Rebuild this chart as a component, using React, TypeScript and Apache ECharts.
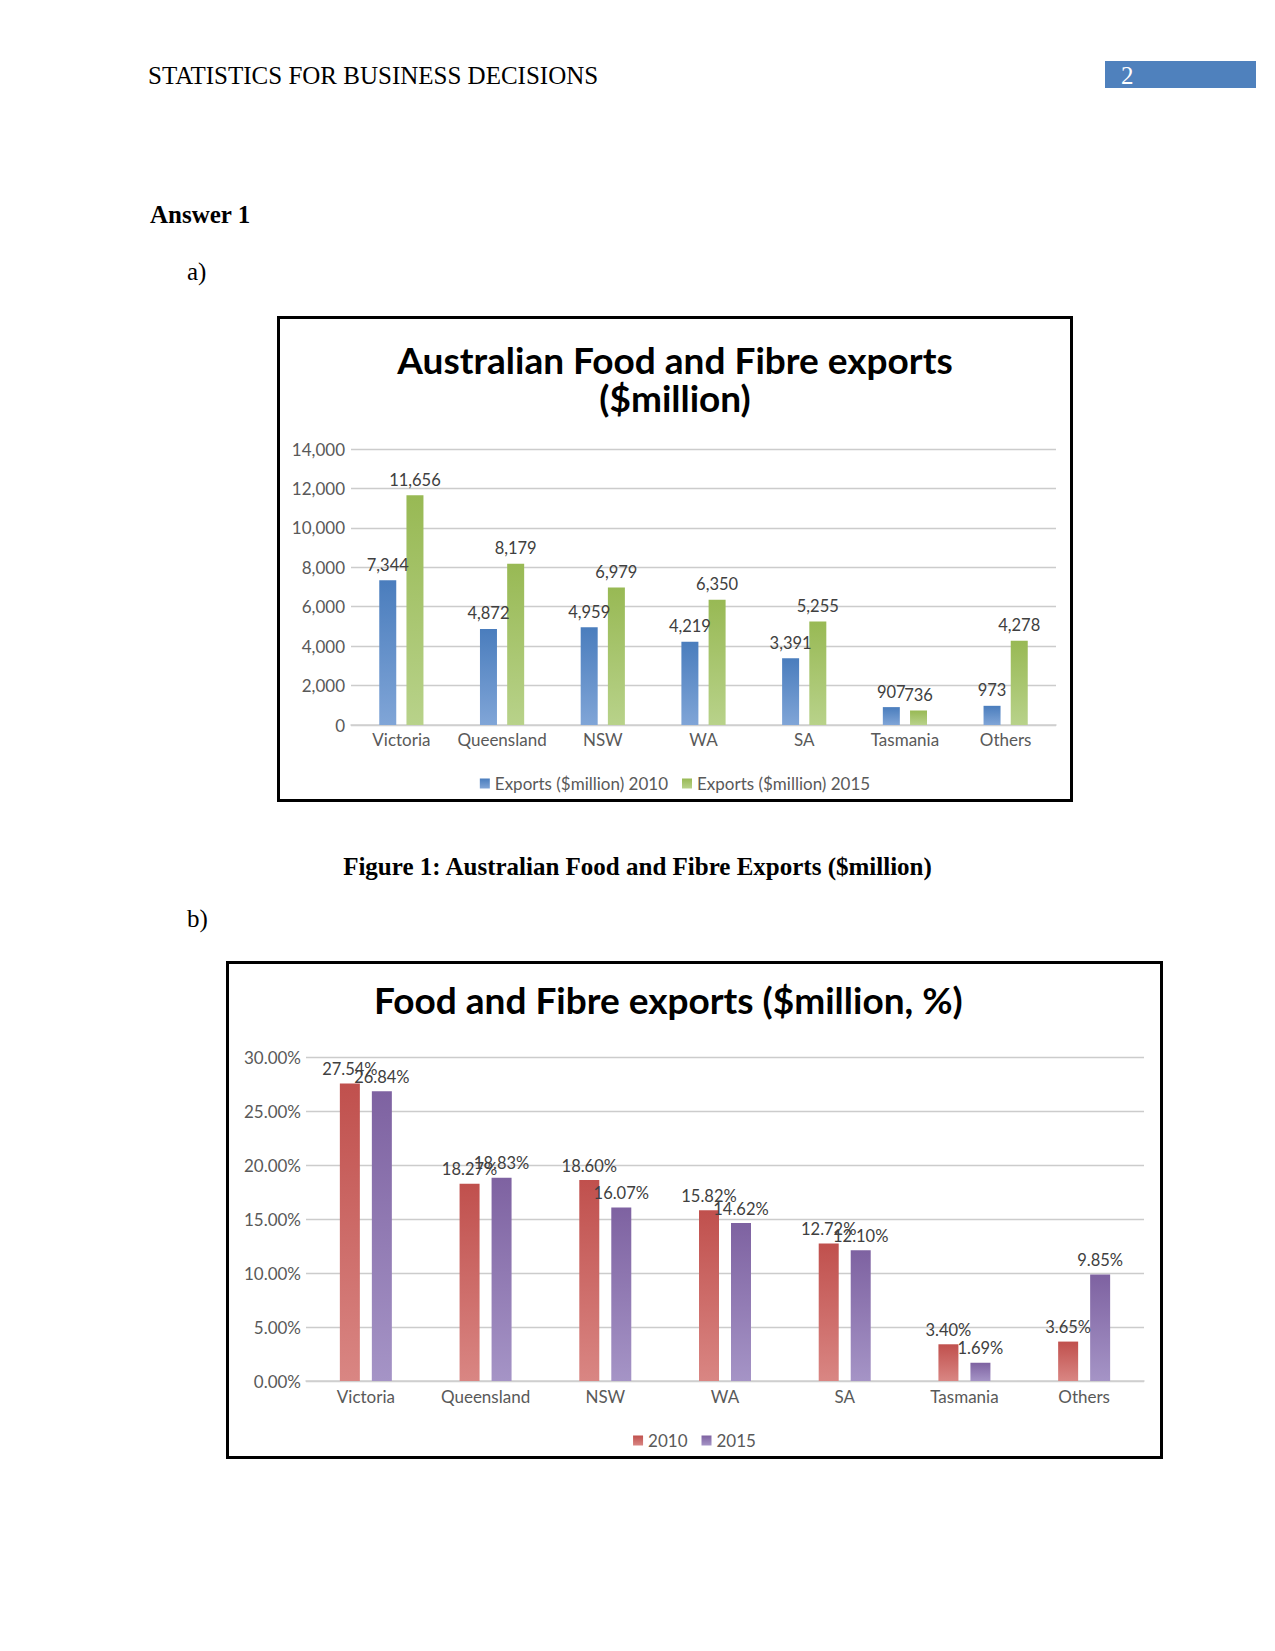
import React, { useEffect, useRef } from "react";
import * as echarts from "echarts";

const categories = ["Victoria", "Queensland", "NSW", "WA", "SA", "Tasmania", "Others"];
const exports2010 = [7344, 4872, 4959, 4219, 3391, 907, 973];
const exports2015 = [11656, 8179, 6979, 6350, 5255, 736, 4278];
const share2010 = [27.54, 18.27, 18.6, 15.82, 12.72, 3.4, 3.65];
const share2015 = [26.84, 18.83, 16.07, 14.62, 12.1, 1.69, 9.85];

const FONT = "Lato, 'Open Sans', sans-serif";
const SERIF = "'Liberation Serif', 'Times New Roman', serif";

function grad(top: string, bottom: string) {
  return new echarts.graphic.LinearGradient(0, 0, 0, 1, [
    { offset: 0, color: top },
    { offset: 1, color: bottom },
  ]);
}

function fmtThousands(v: number) {
  return Math.round(v).toLocaleString("en-US");
}

function Chart({ option, style }: { option: any; style: React.CSSProperties }) {
  const ref = useRef<HTMLDivElement>(null);
  useEffect(() => {
    if (!ref.current) return;
    const chart = echarts.init(ref.current, undefined, { renderer: "svg" });
    chart.setOption(option);
    return () => chart.dispose();
  }, []);
  return <div ref={ref} style={style} />;
}

const axisLabelStyle = { color: "#595959", fontSize: 17, fontFamily: FONT };
const dataLabelStyle = { color: "#404040", fontSize: 16.5, fontFamily: FONT };

const option1 = {
  animation: false,
  title: {
    text: "Australian Food and Fibre exports\n($million)",
    left: "center",
    top: 16,
    textStyle: { fontFamily: FONT, fontWeight: "bold", fontSize: 37, color: "#000", lineHeight: 38 },
  },
  legend: {
    bottom: 2,
    left: "center",
    icon: "rect",
    itemWidth: 10,
    itemHeight: 10,
    itemGap: 14,
    itemStyle: { borderWidth: 0 },
    textStyle: { color: "#595959", fontSize: 17, fontFamily: FONT },
    data: ["Exports ($million) 2010", "Exports ($million) 2015"],
  },
  grid: { left: 71, right: 14, top: 130, bottom: 74, containLabel: false },
  xAxis: {
    type: "category",
    data: categories,
    axisTick: { show: false },
    axisLine: { lineStyle: { color: "#d0d0d0", width: 1.5 } },
    axisLabel: { ...axisLabelStyle, margin: 6, interval: 0 },
  },
  yAxis: {
    type: "value",
    min: 0,
    max: 14000,
    interval: 2000,
    axisLine: { show: false },
    axisTick: { show: false },
    splitLine: { lineStyle: { color: "#cccccc", width: 1.3 } },
    axisLabel: { ...axisLabelStyle, margin: 6, formatter: (v: number) => fmtThousands(v) },
  },
  series: [
    {
      name: "Exports ($million) 2010",
      type: "bar",
      data: exports2010,
      barWidth: 17,
      barGap: "60%",
      itemStyle: { color: grad("#4a7dbd", "#80a5d7") },
      label: { show: true, position: "top", distance: 7, ...dataLabelStyle, formatter: (p: any) => fmtThousands(p.value) },
    },
    {
      name: "Exports ($million) 2015",
      type: "bar",
      data: exports2015,
      barWidth: 17,
      barGap: "60%",
      itemStyle: { color: grad("#98b954", "#b8d28a") },
      label: { show: true, position: "top", distance: 7, ...dataLabelStyle, formatter: (p: any) => fmtThousands(p.value) },
    },
  ],
};

const option2 = {
  animation: false,
  title: {
    text: "Food and Fibre exports ($million, %)",
    left: 140,
    top: 12,
    textStyle: { fontFamily: FONT, fontWeight: "bold", fontSize: 37, color: "#000" },
  },
  legend: {
    bottom: 2,
    left: "center",
    icon: "rect",
    itemWidth: 10,
    itemHeight: 10,
    itemGap: 14,
    itemStyle: { borderWidth: 0 },
    textStyle: { color: "#595959", fontSize: 17, fontFamily: FONT },
    data: ["2010", "2015"],
  },
  grid: { left: 77, right: 16, top: 93, bottom: 75, containLabel: false },
  xAxis: {
    type: "category",
    data: categories,
    axisTick: { show: false },
    axisLine: { lineStyle: { color: "#d0d0d0", width: 1.5 } },
    axisLabel: { ...axisLabelStyle, margin: 7, interval: 0 },
  },
  yAxis: {
    type: "value",
    min: 0,
    max: 30,
    interval: 5,
    axisLine: { show: false },
    axisTick: { show: false },
    splitLine: { lineStyle: { color: "#cccccc", width: 1.3 } },
    axisLabel: { ...axisLabelStyle, margin: 5, formatter: (v: number) => v.toFixed(2) + "%" },
  },
  series: [
    {
      name: "2010",
      type: "bar",
      data: share2010,
      barWidth: 20,
      barGap: "60%",
      itemStyle: { color: grad("#c0504d", "#d98683") },
      label: { show: true, position: "top", distance: 6, ...dataLabelStyle, formatter: (p: any) => p.value.toFixed(2) + "%" },
    },
    {
      name: "2015",
      type: "bar",
      data: share2015,
      barWidth: 20,
      barGap: "60%",
      itemStyle: { color: grad("#7e62a1", "#a594c6") },
      label: { show: true, position: "top", distance: 6, ...dataLabelStyle, formatter: (p: any) => p.value.toFixed(2) + "%" },
    },
  ],
};

const textBase: React.CSSProperties = {
  position: "absolute",
  fontFamily: SERIF,
  fontSize: 25,
  lineHeight: "25px",
  color: "#000",
  whiteSpace: "nowrap",
  margin: 0,
};

export default function App() {
  return (
    <div style={{ position: "absolute", left: 0, top: 0, width: 1275, height: 1651, background: "#fff", overflow: "hidden" }}>
      <div style={{ ...textBase, left: 148, top: 63 }}>STATISTICS FOR BUSINESS DECISIONS</div>
      <div style={{ position: "absolute", left: 1105, top: 61, width: 151, height: 27, background: "#4f81bd" }} />
      <div style={{ ...textBase, left: 1121, top: 63, color: "#fff" }}>2</div>

      <div style={{ ...textBase, left: 150, top: 202, fontWeight: "bold" }}>Answer 1</div>
      <div style={{ ...textBase, left: 187, top: 259 }}>a)</div>

      <div style={{ position: "absolute", left: 277, top: 316, width: 796, height: 486, border: "3px solid #000", boxSizing: "border-box" }} />
      <Chart option={option1} style={{ position: "absolute", left: 280, top: 319, width: 790, height: 480 }} />

      <div style={{ ...textBase, left: 0, width: 1275, textAlign: "center", top: 854, fontWeight: "bold" }}>
        Figure 1: Australian Food and Fibre Exports ($million)
      </div>
      <div style={{ ...textBase, left: 187, top: 906 }}>b)</div>

      <div style={{ position: "absolute", left: 226, top: 961, width: 937, height: 498, border: "3px solid #000", boxSizing: "border-box" }} />
      <Chart option={option2} style={{ position: "absolute", left: 229, top: 964, width: 931, height: 492 }} />
    </div>
  );
}
